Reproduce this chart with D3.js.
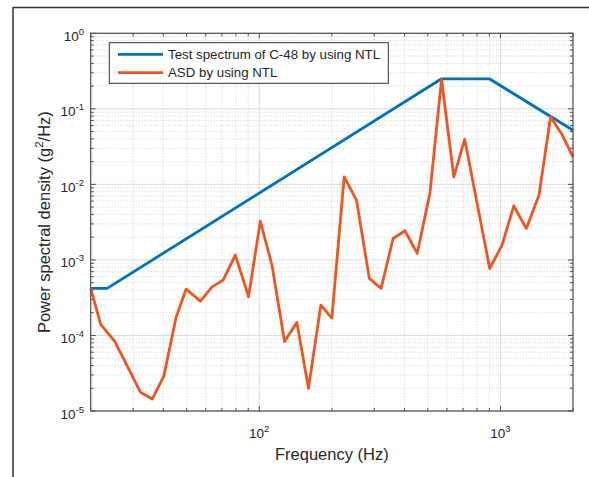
<!DOCTYPE html>
<html>
<head>
<meta charset="utf-8">
<script src="https://cdn.jsdelivr.net/npm/d3@7"></script>
<style>
  html, body { margin: 0; padding: 0; background: #fff; }
  svg { display: block; font-family: "Liberation Sans", Arial, Helvetica, sans-serif; }
</style>
</head>
<body>
<svg id="chart" width="589" height="477"></svg>
<script>
// ---------- data ----------
const specFreq = [20, 23.4, 570, 900, 2000];
const specPSD  = [4.2e-4, 4.2e-4, 0.25, 0.25, 0.052];

const asdFreq = [20, 22, 25.2, 32.2, 36, 40.2, 45.2, 49.7, 57, 63.7, 70.8, 79.6, 90.3, 101, 112.9,
                 127.3, 143.2, 160, 180, 200, 225, 253, 286, 320, 359, 402, 452, 510, 570, 641,
                 711, 903, 1016, 1136, 1281, 1445, 1615, 1806, 2000];
const asdPSD  = [4.2e-4, 1.4e-4, 8.3e-5, 1.77e-5, 1.44e-5, 2.9e-5, 1.73e-4, 4.1e-4, 2.85e-4, 4.4e-4,
                 5.4e-4, 1.16e-3, 3.25e-4, 3.26e-3, 8.5e-4, 8.3e-5, 1.49e-4, 2.0e-5, 2.52e-4, 1.7e-4,
                 1.26e-2, 6.2e-3, 5.7e-4, 4.2e-4, 1.92e-3, 2.43e-3, 1.22e-3, 7.6e-3, 0.244, 1.26e-2,
                 3.96e-2, 7.7e-4, 1.57e-3, 5.2e-3, 2.6e-3, 7.2e-3, 7.8e-2, 4.5e-2, 2.3e-2];

const xMajorTicks = [100, 1000];
const xTickExp    = ["2", "3"];
const yMajorTicks = [1e-5, 1e-4, 1e-3, 1e-2, 1e-1, 1];
const yTickExp    = ["-5", "-4", "-3", "-2", "-1", "0"];

const legendLabels = ["Test spectrum of C-48 by using NTL", "ASD by using NTL"];
const seriesColors = ["#0072BD", "#EE5520"];
const xLabel = "Frequency (Hz)";

// ---------- layout ----------
const svg = d3.select("#chart");
const L = 90.7, R = 573, T = 33.3, B = 411;
const x = d3.scaleLog().domain([20, 2000]).range([L, R]);
const y = d3.scaleLog().domain([1e-5, 1]).range([B, T]);
const axisColor = "#4d4d4d", textColor = "#262626";

// outer frame (partial, as cropped in the reference)
svg.append("line").attr("x1", 13).attr("x2", 589).attr("y1", 7.5).attr("y2", 7.5)
  .attr("stroke", "#333").attr("stroke-width", 1.5);
svg.append("line").attr("x1", 13).attr("x2", 13).attr("y1", 7).attr("y2", 477)
  .attr("stroke", "#333").attr("stroke-width", 1.5);

// minor values
const xMinor = [];
[10, 100, 1000].forEach(d => { for (let k = 2; k <= 9; k++) { const v = d * k; if (v >= 20 && v <= 2000) xMinor.push(v); } });
const yMinor = [];
[1e-5, 1e-4, 1e-3, 1e-2, 1e-1].forEach(d => { for (let k = 2; k <= 9; k++) yMinor.push(d * k); });

const g = svg.append("g");
// minor grid (dotted)
g.selectAll(".xmg").data(xMinor).enter().append("line")
  .attr("x1", d => x(d)).attr("x2", d => x(d)).attr("y1", T).attr("y2", B)
  .attr("stroke", "#c4c4c4").attr("stroke-width", 0.8).attr("stroke-dasharray", "1,2");
g.selectAll(".ymg").data(yMinor).enter().append("line")
  .attr("x1", L).attr("x2", R).attr("y1", d => y(d)).attr("y2", d => y(d))
  .attr("stroke", "#c4c4c4").attr("stroke-width", 0.8).attr("stroke-dasharray", "1,2");
// major grid (solid)
g.selectAll(".xMg").data(xMajorTicks).enter().append("line")
  .attr("x1", d => x(d)).attr("x2", d => x(d)).attr("y1", T).attr("y2", B)
  .attr("stroke", "#dcdcdc").attr("stroke-width", 1);
g.selectAll(".yMg").data(yMajorTicks).enter().append("line")
  .attr("x1", L).attr("x2", R).attr("y1", d => y(d)).attr("y2", d => y(d))
  .attr("stroke", "#dcdcdc").attr("stroke-width", 1);

// ticks on all four sides (inward)
function ticksX(vals, len) {
  vals.forEach(v => {
    g.append("line").attr("x1", x(v)).attr("x2", x(v)).attr("y1", B).attr("y2", B - len).attr("stroke", axisColor).attr("stroke-width", 1);
    g.append("line").attr("x1", x(v)).attr("x2", x(v)).attr("y1", T).attr("y2", T + len).attr("stroke", axisColor).attr("stroke-width", 1);
  });
}
function ticksY(vals, len) {
  vals.forEach(v => {
    g.append("line").attr("y1", y(v)).attr("y2", y(v)).attr("x1", L).attr("x2", L + len).attr("stroke", axisColor).attr("stroke-width", 1);
    g.append("line").attr("y1", y(v)).attr("y2", y(v)).attr("x1", R).attr("x2", R - len).attr("stroke", axisColor).attr("stroke-width", 1);
  });
}
ticksX(xMajorTicks, 5); ticksX(xMinor, 3);
ticksY(yMajorTicks, 5); ticksY(yMinor, 3);

// series
const line = d3.line().x(d => x(d[0])).y(d => y(d[1]));
svg.append("path").datum(d3.zip(specFreq, specPSD)).attr("d", line)
  .attr("fill", "none").attr("stroke", seriesColors[0]).attr("stroke-width", 2.8).attr("stroke-linejoin", "round");
svg.append("path").datum(d3.zip(asdFreq, asdPSD)).attr("d", line)
  .attr("fill", "none").attr("stroke", seriesColors[1]).attr("stroke-width", 2.8).attr("stroke-linejoin", "round");

// axes box
svg.append("rect").attr("x", L).attr("y", T).attr("width", R - L).attr("height", B - T)
  .attr("fill", "none").attr("stroke", axisColor).attr("stroke-width", 1.2);

// y tick labels
yMajorTicks.forEach((v, i) => {
  const t = svg.append("text").attr("x", 84).attr("y", y(v) + 7.5)
    .attr("text-anchor", "end").attr("fill", textColor).style("font-size", "13.5px");
  t.append("tspan").text("10");
  t.append("tspan").attr("dy", -6).style("font-size", "9.5px").text(yTickExp[i]);
});
// x tick labels
xMajorTicks.forEach((v, i) => {
  const t = svg.append("text").attr("x", x(v)).attr("y", 437.5)
    .attr("text-anchor", "middle").attr("fill", textColor).style("font-size", "13.5px");
  t.append("tspan").text("10");
  t.append("tspan").attr("dy", -6).style("font-size", "9.5px").text(xTickExp[i]);
});

// axis labels
svg.append("text").attr("x", (L + R) / 2).attr("y", 459.5).attr("text-anchor", "middle")
  .attr("fill", textColor).style("font-size", "16.5px").text(xLabel);
const yl = svg.append("text").attr("transform", `translate(49.5, ${(T + B) / 2}) rotate(-90)`)
  .attr("text-anchor", "middle").attr("fill", textColor).style("font-size", "16.5px");
yl.append("tspan").text("Power spectral density (g");
yl.append("tspan").attr("dy", -7).style("font-size", "11.5px").text("2");
yl.append("tspan").attr("dy", 7).text("/Hz)");

// legend
const lg = svg.append("g");
lg.append("rect").attr("x", 109.3).attr("y", 42.7).attr("width", 279).attr("height", 40.6)
  .attr("fill", "#fff").attr("stroke", "#333").attr("stroke-width", 1);
legendLabels.forEach((lab, i) => {
  const ly = 54.3 + i * 18.4;
  lg.append("line").attr("x1", 118).attr("x2", 163).attr("y1", ly).attr("y2", ly)
    .attr("stroke", seriesColors[i]).attr("stroke-width", 2.8);
  lg.append("text").attr("x", 168).attr("y", ly + 4.7).attr("fill", textColor)
    .style("font-size", "13.3px").text(lab);
});
</script>
</body>
</html>
